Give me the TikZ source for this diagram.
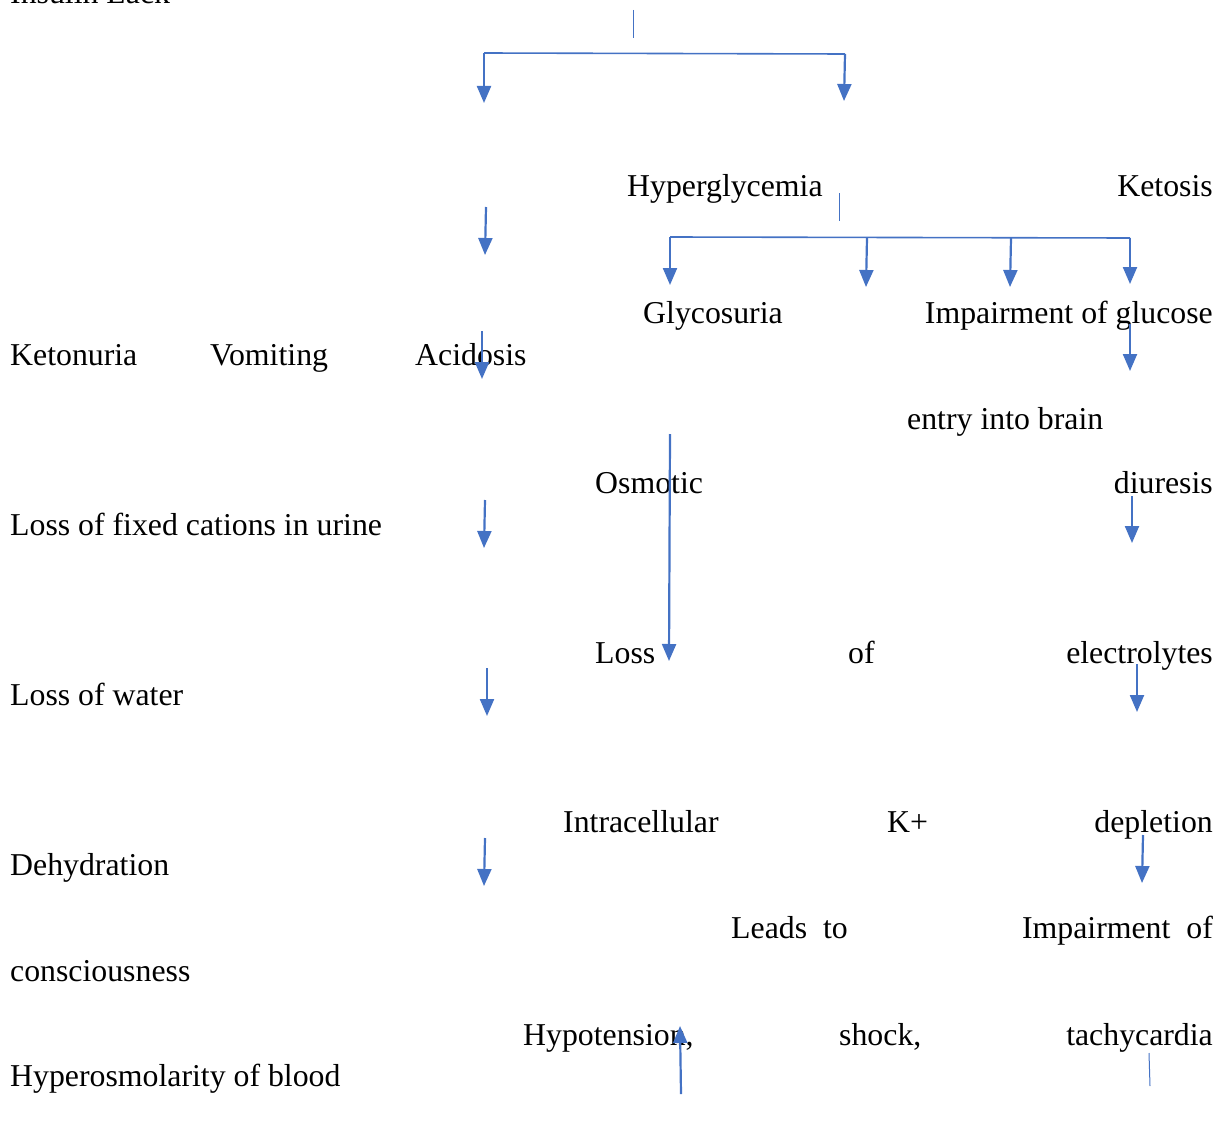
\documentclass[tikz,border=0pt]{standalone}
\usepackage{fontspec}
\setmainfont{Liberation Serif}
\usetikzlibrary{arrows.meta}
\definecolor{arrblue}{HTML}{4472C4}
\tikzset{
  lbl/.style={inner sep=0pt, anchor=base west, font=\fontsize{31.8}{36}\selectfont},
  rlbl/.style={inner sep=0pt, anchor=base east, font=\fontsize{31.8}{36}\selectfont},
  arr/.style={draw=arrblue, line width=2.2pt, -{Triangle[width=14pt,length=17pt]}},
  thin/.style={draw=arrblue, line width=1pt},
  bar/.style={draw=arrblue, line width=1.6pt},
}
\begin{document}
\begin{tikzpicture}[x=1pt,y=-1pt]
\useasboundingbox (0,0) rectangle (1226,1137);
\clip (0,0) rectangle (1226,1137);
% texts
\node[lbl] (insulin) at (10,4) {Insulin Lack};
\node[lbl] (hyper) at (627,196) {Hyperglycemia};
\node[rlbl] (ketosis) at (1213,196) {Ketosis};
\node[lbl] (glyco) at (643,323) {Glycosuria};
\node[rlbl] (impair) at (1213,323) {Impairment of glucose};
\node[lbl] (ketonuria) at (10,365) {Ketonuria};
\node[lbl] (vomit) at (210,365) {Vomiting};
\node[lbl] (acid) at (415,365) {Acidosis};
\node[lbl] (entry) at (907,429) {entry into brain};
\node[lbl] (osm) at (595,493) {Osmotic};
\node[rlbl] (diur) at (1213,493) {diuresis};
\node[lbl] (cations) at (10,535) {Loss of fixed cations in urine};
\node[lbl] (loss) at (595,663) {Loss};
\node[lbl] (of) at (848,663) {of};
\node[rlbl] (electro) at (1213,663) {electrolytes};
\node[lbl] (water) at (10,705) {Loss of water};
\node[lbl] (intra) at (563,832) {Intracellular};
\node[lbl] (kplus) at (887,832) {K+};
\node[rlbl] (deplet) at (1213,832) {depletion};
\node[lbl] (dehyd) at (10,875) {Dehydration};
\node[lbl] (leads) at (731,938) {Leads\ \ to};
\node[rlbl] (impof) at (1213,938) {Impairment\ \ of};
\node[lbl] (consc) at (10,981) {consciousness};
\node[lbl] (hypot) at (523,1045) {Hypotension,};
\node[lbl] (shock) at (839,1045) {shock,};
\node[rlbl] (tachy) at (1213,1045) {tachycardia};
\node[lbl] (hyperosm) at (10,1086) {Hyperosmolarity of blood};
% coordinates
\coordinate (t1a) at (633,10);   \coordinate (t1b) at (633,38);
\coordinate (b1l) at (484,53);   \coordinate (b1r) at (845,54);
\coordinate (a1e) at (484,103);  \coordinate (a2e) at (844,101);
\coordinate (a3s) at (486,207);  \coordinate (a3e) at (485,255);
\coordinate (t2a) at (839,193);  \coordinate (t2b) at (839,221);
\coordinate (b2l) at (670,237);  \coordinate (b2m1) at (867,238);
\coordinate (b2m2) at (1011,238); \coordinate (b2r) at (1130,238);
\coordinate (a4e) at (670,285);  \coordinate (a5e) at (866,287);
\coordinate (a6e) at (1010,287); \coordinate (a7e) at (1130,284);
\coordinate (a8s) at (1130,324); \coordinate (a8e) at (1130,371);
\coordinate (a9s) at (482,331);  \coordinate (a9e) at (482,379);
\coordinate (a10s) at (670,434); \coordinate (a10e) at (669,661);
\coordinate (a11s) at (1132,496); \coordinate (a11e) at (1132,543);
\coordinate (a12s) at (485,500); \coordinate (a12e) at (484,548);
\coordinate (a13s) at (1137,664); \coordinate (a13e) at (1137,712);
\coordinate (a14s) at (487,668); \coordinate (a14e) at (487,716);
\coordinate (a15s) at (1143,835); \coordinate (a15e) at (1142,883);
\coordinate (a16s) at (485,838); \coordinate (a16e) at (484,886);
\coordinate (a17s) at (681,1094); \coordinate (a17e) at (680,1026);
\coordinate (t3a) at (1149,1053); \coordinate (t3b) at (1150,1086);
% connectors
\draw[thin] (t1a) -- (t1b);
\draw[bar] (b1l) -- (b1r);
\draw[arr] (b1l) -- (a1e);
\draw[arr] (b1r) -- (a2e);
\draw[arr] (a3s) -- (a3e);
\draw[thin] (t2a) -- (t2b);
\draw[bar] (b2l) -- (b2r);
\draw[arr] (b2l) -- (a4e);
\draw[arr] (b2m1) -- (a5e);
\draw[arr] (b2m2) -- (a6e);
\draw[arr] (b2r) -- (a7e);
\draw[arr] (a8s) -- (a8e);
\draw[arr] (a9s) -- (a9e);
\draw[arr] (a10s) -- (a10e);
\draw[arr] (a11s) -- (a11e);
\draw[arr] (a12s) -- (a12e);
\draw[arr] (a13s) -- (a13e);
\draw[arr] (a14s) -- (a14e);
\draw[arr] (a15s) -- (a15e);
\draw[arr] (a16s) -- (a16e);
\draw[arr] (a17s) -- (a17e);
\draw[thin] (t3a) -- (t3b);
\end{tikzpicture}
\end{document}
